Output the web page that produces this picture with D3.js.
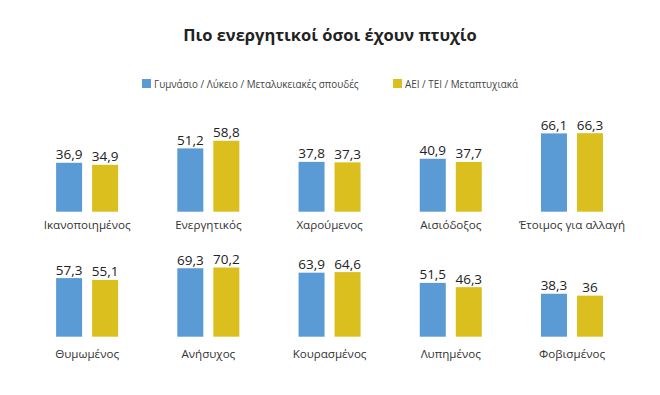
<!DOCTYPE html>
<html>
<head>
<meta charset="utf-8">
<script src="https://cdn.jsdelivr.net/npm/d3@7/dist/d3.min.js"></script>
<style>
  html, body { margin: 0; padding: 0; background: #fff; }
  svg { display: block; font-family: "Open Sans", "Noto Sans", sans-serif; }
</style>
</head>
<body>
<svg id="chart" width="660" height="395"></svg>
<script>
// ─── Data ───────────────────────────────────────────
const SERIES = ['Γυμνάσιο / Λύκειο / Μεταλυκειακές σπουδές', 'ΑΕΙ / ΤΕΙ / Μεταπτυχιακά'];
const ROW1_CATS = ['Ικανοποιημένος', 'Ενεργητικός', 'Χαρούμενος', 'Αισιόδοξος', 'Έτοιμος για αλλαγή'];
const ROW1_SCHOOL = [36.9, 51.2, 37.8, 40.9, 66.1];
const ROW1_UNI = [34.9, 58.8, 37.3, 37.7, 66.3];
const ROW2_CATS = ['Θυμωμένος', 'Ανήσυχος', 'Κουρασμένος', 'Λυπημένος', 'Φοβισμένος'];
const ROW2_SCHOOL = [57.3, 69.3, 63.9, 51.5, 38.3];
const ROW2_UNI = [55.1, 70.2, 64.6, 46.3, 36];

const COLORS = ['#5b9bd5', '#dabf1f'];
const fmt = v => String(v).replace('.', ',');

const svg = d3.select('#chart');

// title
svg.append('text')
  .attr('x', 330).attr('y', 41)
  .attr('text-anchor', 'middle')
  .attr('font-size', 16.5).attr('font-weight', 700).attr('fill', '#222')
  .text('Πιο ενεργητικοί όσοι έχουν πτυχίο');

// legend
const legendX = [142, 393];
SERIES.forEach((s, i) => {
  const g = svg.append('g').attr('transform', `translate(${legendX[i]},79)`);
  g.append('rect').attr('width', 9).attr('height', 9).attr('fill', COLORS[i]);
  g.append('text').attr('x', 12).attr('y', 8.5)
    .attr('font-size', 9.9).attr('fill', '#444').text(s);
});

// rows: each facet row has its own value scale
const rows = [
  { cats: ROW1_CATS, vals: [ROW1_SCHOOL, ROW1_UNI], base: 211.7, domain: [-11.7, 80], top: 119.4, labelY: 229 },
  { cats: ROW2_CATS, vals: [ROW2_SCHOOL, ROW2_UNI], base: 336.7, domain: [-13.9, 90], top: 251.2, labelY: 358 }
];

rows.forEach(row => {
  const x0 = d3.scaleBand().domain(row.cats).range([26.5, 632.6]);
  const x1 = d3.scaleBand().domain(d3.range(SERIES.length))
    .range([0, x0.bandwidth()]).paddingInner(0.2778).paddingOuter(0.822);
  const y = d3.scaleLinear().domain(row.domain).range([row.base, row.top]);

  const groups = svg.append('g').selectAll('g')
    .data(row.cats).enter().append('g')
    .attr('transform', d => `translate(${x0(d)},0)`);

  groups.each(function(cat, ci) {
    const g = d3.select(this);
    const data = row.vals.map((arr, si) => ({ si, v: arr[ci] }));
    g.selectAll('rect').data(data).enter().append('rect')
      .attr('x', d => x1(d.si))
      .attr('width', x1.bandwidth())
      .attr('y', d => y(d.v))
      .attr('height', d => y(row.domain[0]) - y(d.v))
      .attr('fill', d => COLORS[d.si]);
    g.selectAll('text.val').data(data).enter().append('text')
      .attr('class', 'val')
      .attr('x', d => x1(d.si) + x1.bandwidth() / 2)
      .attr('y', d => y(d.v) - 3.5)
      .attr('text-anchor', 'middle')
      .attr('font-size', 13.5).attr('fill', '#222')
      .text(d => fmt(d.v));
    g.append('text')
      .attr('x', x0.bandwidth() / 2).attr('y', row.labelY)
      .attr('text-anchor', 'middle')
      .attr('font-size', 11.6).attr('fill', '#333')
      .text(cat);
  });
});
</script>
</body>
</html>
